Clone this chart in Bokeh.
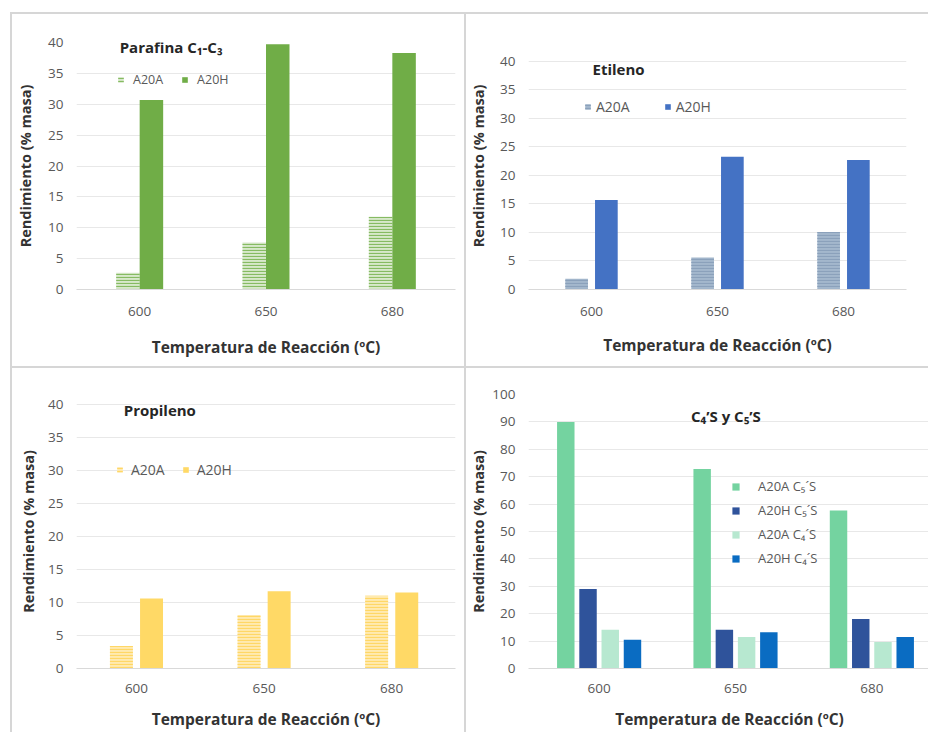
from bokeh.plotting import figure
from bokeh.models import Range1d, Label
from bokeh.layouts import column, row
from bokeh.embed import file_html
from bokeh.resources import INLINE
import numpy as np

# Reaction temperatures (ºC) used as categories
temps = ["600", "650", "680"]

# Yields (% masa)
paraf_a20a = [2.7, 7.6, 11.8]
paraf_a20h = [30.7, 39.7, 38.3]
etil_a20a = [1.9, 5.6, 10.1]
etil_a20h = [15.7, 23.3, 22.7]
prop_a20a = [3.4, 8.1, 11.0]
prop_a20h = [10.6, 11.7, 11.5]
c5_a20a = [90.0, 72.8, 57.7]
c5_a20h = [29.0, 14.1, 18.1]
c4_a20a = [14.1, 11.5, 9.7]
c4_a20h = [10.5, 13.2, 11.5]

ticks_40 = [0, 5, 10, 15, 20, 25, 30, 35, 40]
ticks_100 = [0, 10, 20, 30, 40, 50, 60, 70, 80, 90, 100]

FONT = "Open Sans"
XTITLE = "Temperatura de Reacción (ºC)"
YTITLE = "Rendimiento (% masa)"
BORDER = "2px solid #d6d6d6"

xpos = np.arange(len(temps))


def make_panel(width, height, margin, borders, xr, yr, ticks,
               xtick_stand, xstand, ystand):
    left, right, top, bottom = borders
    p = figure(width=width, height=height, output_backend="svg",
               toolbar_location=None, x_range=Range1d(*xr),
               y_range=Range1d(*yr),
               min_border_left=left, min_border_right=right,
               min_border_top=top, min_border_bottom=bottom,
               margin=margin,
               styles={"border-top": BORDER, "border-left": BORDER})
    p.outline_line_color = None
    p.background_fill_color = "white"
    p.border_fill_color = "white"
    p.xgrid.grid_line_color = None
    p.ygrid.grid_line_color = "#e8e8e8"
    p.ygrid.grid_line_width = 1

    p.xaxis.ticker = list(xpos)
    p.xaxis.major_label_overrides = {int(i): t for i, t in zip(xpos, temps)}
    p.yaxis.ticker = ticks

    for ax in (p.xaxis[0], p.yaxis[0]):
        ax.major_tick_in = 0
        ax.major_tick_out = 0
        ax.minor_tick_in = 0
        ax.minor_tick_out = 0
        ax.major_label_text_font = FONT
        ax.major_label_text_font_size = "13.5px"
        ax.major_label_text_color = "#595959"
        ax.axis_label_text_font = FONT
        ax.axis_label_text_font_style = "bold"
        ax.axis_label_text_color = "#333333"
    p.xaxis.axis_label_text_font_size = "15.5px"
    p.yaxis.axis_label_text_font_size = "14.5px"
    p.xaxis.axis_line_color = "#d9d9d9"
    p.yaxis.axis_line_color = None
    p.xaxis.axis_label = XTITLE
    p.yaxis.axis_label = YTITLE
    p.xaxis.major_label_standoff = xtick_stand
    p.yaxis.major_label_standoff = 13
    p.xaxis.axis_label_standoff = xstand
    p.yaxis.axis_label_standoff = ystand
    return p


def style_legend(p, loc, orientation, glyph, standoff, spacing, size,
                 label_h):
    lg = p.legend[0]
    lg.location = loc
    lg.orientation = orientation
    lg.background_fill_alpha = 0
    lg.border_line_color = None
    lg.padding = 0
    lg.margin = 0
    lg.glyph_width = glyph
    lg.glyph_height = glyph
    lg.label_standoff = standoff
    lg.spacing = spacing
    lg.label_height = label_h
    lg.label_text_font = FONT
    lg.label_text_font_size = size
    lg.label_text_color = "#595959"


def add_title(p, text, x, y, align="left", size="15px"):
    p.add_layout(Label(x=x, y=y, text=text, text_font=FONT,
                       text_font_size=size, text_font_style="bold",
                       text_color="#262626", text_align=align,
                       text_baseline="middle"))


def hatched(p, x, top, width, fill, hatch, label):
    p.vbar(x=x, top=top, width=width, bottom=0, fill_color=fill,
           line_color=None, hatch_pattern="horizontal_line",
           hatch_color=hatch, hatch_scale=3, hatch_weight=1.2,
           legend_label=label)


def solid(p, x, top, width, fill, label):
    p.vbar(x=x, top=top, width=width, bottom=0, fill_color=fill,
           line_color=None, legend_label=label)


# --- Parafina C1-C3 ---
p1 = make_panel(454, 354, (12, 0, 0, 10), (64, 11, 28, 79),
                (-0.5, 2.5), (0, 40), ticks_40, 17, 17, 10)
w1 = 0.186
hatched(p1, xpos - w1 / 2, paraf_a20a, w1, "#d7e8cb", "#86bb62", "A20A")
solid(p1, xpos + w1 / 2, paraf_a20h, w1, "#70ad47", "A20H")
style_legend(p1, (41, 201), "horizontal", 7, 9, 18, "12.5px", 14)
add_title(p1, "Parafina C\u2081-C\u2083", -0.158, 39.2)

# --- Etileno ---
p2 = make_panel(464, 354, (12, 0, 0, 0), (60, 24, 28, 79),
                (-0.5, 2.5), (0, 43.33), ticks_40, 17, 15, 9)
w2, d2 = 0.18, 0.118
hatched(p2, xpos - d2, etil_a20a, w2, "#a3b7cc", "#8ba1bb", "A20A")
solid(p2, xpos + d2, etil_a20h, w2, "#4472c4", "A20H")
style_legend(p2, (56, 173), "horizontal", 7, 5, 34, "14px", 14)
add_title(p2, "Etileno", 0.008, 38.6)

# --- Propileno ---
p3 = make_panel(454, 366, (0, 0, 0, 10), (64, 11, 26, 66),
                (-0.47, 2.5), (0, 41.5), ticks_40, 15, 12, 7)
w3, d3 = 0.18, 0.118
hatched(p3, xpos - d3, prop_a20a, w3, "#ffeab0", "#ffd766", "A20A")
solid(p3, xpos + d3, prop_a20h, w3, "#ffd966", "A20H")
style_legend(p3, (40, 189), "horizontal", 7, 8, 17, "14px", 14)
add_title(p3, "Propileno", -0.10, 39.1)

# --- C4'S y C5'S ---
p4 = make_panel(464, 366, (0, 0, 0, 0), (60, 0, 26, 66),
                (-0.518, 2.43), (0, 100), ticks_100, 15, 12, 1)
w4, d4 = 0.128, 0.163
solid(p4, xpos - 1.5 * d4, c5_a20a, w4, "#74d3a0", "A20A C\u2085\u00b4S")
solid(p4, xpos - 0.5 * d4, c5_a20h, w4, "#2f539b", "A20H C\u2085\u00b4S")
solid(p4, xpos + 0.5 * d4, c4_a20a, w4, "#b7e8d0", "A20A C\u2084\u00b4S")
solid(p4, xpos + 1.5 * d4, c4_a20h, w4, "#0a6cc2", "A20H C\u2084\u00b4S")
style_legend(p4, (203, 101), "vertical", 9, 18, 6, "13px", 16)
add_title(p4, "C\u2084\u2019S y C\u2085\u2019S", 0.93, 92, align="center")

layout = column(row(p1, p2), row(p3, p4))

with open("out.html", "w") as f:
    f.write(file_html(layout, INLINE))
